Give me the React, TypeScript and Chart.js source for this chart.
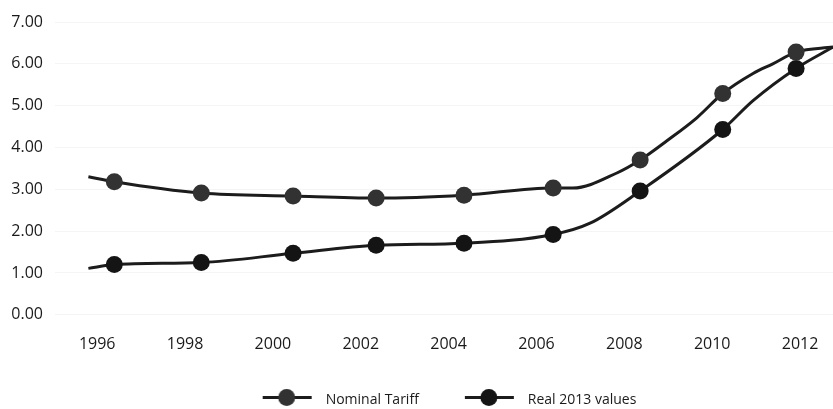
import React, { useEffect, useRef } from "react";
import { Chart, registerables } from "chart.js";

Chart.register(...registerables);

const tickYears = [1996, 1998, 2000, 2002, 2004, 2006, 2008, 2010, 2012];
const yTicks = [0, 1, 2, 3, 4, 5, 6, 7];

const nominalYears = [1995.8, 1996.39, 1998.37, 2000.46, 2002.35, 2004.35, 2006.38, 2006.83, 2007.83, 2008.36, 2008.97, 2009.65, 2010.24, 2010.93, 2011.38, 2011.91, 2012.75];
const nominalValues = [3.30, 3.18, 2.91, 2.84, 2.79, 2.86, 3.03, 3.03, 3.39, 3.70, 4.16, 4.71, 5.29, 5.77, 6.00, 6.28, 6.40];
const nominalMarked = [0, 1, 1, 1, 1, 1, 1, 0, 0, 1, 0, 0, 1, 0, 0, 1, 0];

const realYears = [1995.8, 1996.39, 1998.37, 2000.46, 2002.35, 2004.35, 2006.38, 2007.22, 2008.36, 2010.24, 2010.93, 2011.91, 2012.75];
const realValues = [1.11, 1.20, 1.25, 1.47, 1.66, 1.71, 1.92, 2.19, 2.96, 4.43, 5.12, 5.89, 6.40];
const realMarked = [0, 1, 1, 1, 1, 1, 1, 0, 1, 1, 0, 1, 0];

const seriesNames = ["Nominal Tariff", "Real 2013 values"];

const LINE = "#1c1c1c";
const NOM_FILL = "#323232";
const REAL_FILL = "#141414";
const FONT = "'Open Sans', sans-serif";

const LEG_LEFT = 11;
const LEG_W = LEG_LEFT + 49 + 7;

function legendImage(fill: string) {
  const c = document.createElement("canvas");
  c.width = LEG_W;
  c.height = 24;
  const g = c.getContext("2d")!;
  const cy = 9.5;
  g.strokeStyle = LINE;
  g.lineWidth = 3;
  g.beginPath();
  g.moveTo(LEG_LEFT, cy);
  g.lineTo(LEG_LEFT + 49, cy);
  g.stroke();
  g.fillStyle = fill;
  g.beginPath();
  g.arc(LEG_LEFT + 24, cy, 8.5, 0, Math.PI * 2);
  g.fill();
  return c;
}

export default function App() {
  const ref = useRef<HTMLCanvasElement>(null);
  useEffect(() => {
    const imgs = [legendImage(NOM_FILL), legendImage(REAL_FILL)];
    const mk = (years: number[], vals: number[]) => years.map((x, i) => ({ x, y: vals[i] }));
    const chart = new Chart(ref.current!, {
      type: "line",
      data: {
        datasets: [
          {
            label: seriesNames[0],
            data: mk(nominalYears, nominalValues),
            borderColor: LINE,
            borderWidth: 3,
            backgroundColor: NOM_FILL,
            pointBackgroundColor: NOM_FILL,
            pointBorderWidth: 0,
            pointRadius: nominalMarked.map((m) => (m ? 8.5 : 0)),
            cubicInterpolationMode: "monotone",
            clip: false as any,
          },
          {
            label: seriesNames[1],
            data: mk(realYears, realValues),
            borderColor: LINE,
            borderWidth: 3,
            backgroundColor: REAL_FILL,
            pointBackgroundColor: REAL_FILL,
            pointBorderWidth: 0,
            pointRadius: realMarked.map((m) => (m ? 8.5 : 0)),
            cubicInterpolationMode: "monotone",
            clip: false as any,
          },
        ],
      },
      options: {
        animation: false,
        responsive: true,
        maintainAspectRatio: false,
        layout: { padding: { top: 22, right: 0, left: 0, bottom: -8 } },
        plugins: {
          tooltip: { enabled: false },
          legend: {
            position: "bottom",
            fullSize: false,
            labels: {
              usePointStyle: true,
              pointStyleWidth: LEG_W,
              padding: 35,
              color: "#1a1a1a",
              font: { family: FONT, size: 14 },
              generateLabels: (ch: any) => {
                const base = Chart.defaults.plugins.legend.labels.generateLabels(ch);
                return base.map((l: any, i: number) => ({ ...l, pointStyle: imgs[i], lineWidth: 0 }));
              },
            },
          },
        },
        scales: {
          x: {
            type: "linear",
            min: 1995.04,
            max: 2012.75,
            afterBuildTicks: (axis: any) => {
              axis.ticks = tickYears.map((v) => ({ value: v }));
            },
            afterFit: (axis: any) => {
              axis.height -= 8;
            },
            ticks: {
              padding: 12,
              color: "#1a1a1a",
              font: { family: FONT, size: 16 },
              maxRotation: 0,
              autoSkip: false,
              callback: (v: any) => String(v),
            },
            grid: { display: false },
            border: { display: false },
          },
          y: {
            min: 0,
            max: 7,
            afterBuildTicks: (axis: any) => {
              axis.ticks = yTicks.map((v) => ({ value: v }));
            },
            afterFit: (axis: any) => {
              axis.width = 55;
            },
            ticks: {
              padding: 12,
              color: "#1a1a1a",
              font: { family: FONT, size: 16 },
              callback: (v: any) => Number(v).toFixed(2),
            },
            grid: { drawTicks: false, color: "rgba(0,0,0,0.04)" },
            border: { display: false },
          },
        },
      },
    } as any);
    return () => chart.destroy();
  }, []);
  return (
    <div style={{ position: "absolute", left: 0, top: 0, width: 833, height: 409 }}>
      <canvas ref={ref} />
    </div>
  );
}
